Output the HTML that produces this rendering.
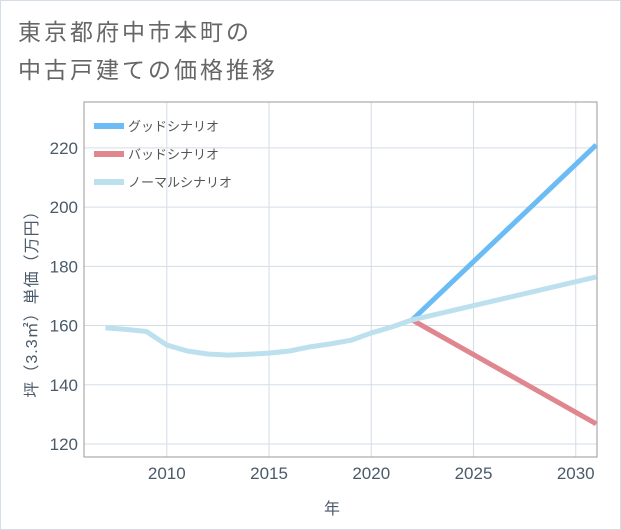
<!DOCTYPE html>
<html><head><meta charset="utf-8"><style>
body{margin:0;background:#fff;font-family:"Liberation Sans","Noto Sans CJK JP",sans-serif;}
#wrap{position:relative;width:619px;height:528px;border:1px solid #d5dde6;background:#fff;}
</style></head><body>
<div id="wrap">
<svg id="chart" width="621" height="530" style="position:absolute;left:-1px;top:-1px">
<text x="18" y="40" font-size="23" fill="#666" letter-spacing="3">東京都府中市本町の</text>
<text x="18" y="78" font-size="23" fill="#666" letter-spacing="3">中古戸建ての価格推移</text>
<g id="grid"></g>
<rect x="84" y="102" width="513" height="355" fill="none" stroke="#999" stroke-width="1"/>
<g id="series"></g>
<g id="axes"></g>
<text x="0" y="0" font-size="16" fill="#4a5a6a" letter-spacing="1" transform="translate(37,300) rotate(-90)" text-anchor="middle">坪（3.3㎡）単価（万円）</text>
<text x="332" y="514" font-size="16" fill="#4a5a6a" text-anchor="middle">年</text>
<g id="legend"></g>
</svg>
</div>
<script>
const years=[2007,2008,2009,2010,2011,2012,2013,2014,2015,2016,2017,2018,2019,2020,2021,2022];
const histValues=[159.2,158.7,158.0,153.4,151.4,150.4,150.0,150.3,150.7,151.4,152.8,153.8,155.0,157.5,159.5,161.9];
const projYears=[2022,2031];
const goodValues=[161.9,221];
const badValues=[161.9,126.8];
const normalValues=[161.9,176.4];
const xTicks=[2010,2015,2020,2025,2030];
const yTicks=[120,140,160,180,200,220];
const seriesNames=["グッドシナリオ","バッドシナリオ","ノーマルシナリオ"];
const X0=84,X1=597,Y0=457,Y1=102,xMin=2005.95,xMax=2031.04,yMin=115.6,yMax=235.5;
const xs=v=>X0+(v-xMin)/(xMax-xMin)*(X1-X0);
const ys=v=>Y0-(v-yMin)/(yMax-yMin)*(Y0-Y1);
const NS="http://www.w3.org/2000/svg";
function mk(t,a,p){const e=document.createElementNS(NS,t);for(const k in a)e.setAttribute(k,a[k]);p.appendChild(e);return e;}
const grid=document.getElementById('grid'),axes=document.getElementById('axes'),ser=document.getElementById('series'),leg=document.getElementById('legend');
yTicks.forEach(v=>{const l=mk('line',{x1:X0,x2:X1,y1:ys(v),y2:ys(v),stroke:'#d3dde8','stroke-width':1},grid);


const t=mk('text',{x:X0-6,y:ys(v)+6,'font-size':17,fill:'#4a5a6a','text-anchor':'end'},axes);t.textContent=v;

});
xTicks.forEach(v=>{const l=mk('line',{x1:xs(v),x2:xs(v),y1:Y1,y2:Y0,stroke:'#d3dde8','stroke-width':1},grid);


const t=mk('text',{x:xs(v),y:Y0+22,'font-size':17,fill:'#4a5a6a','text-anchor':'middle'},axes);t.textContent=v;

});
function line(xv,yv,color,name){const p=mk('polyline',{points:xv.map((x,i)=>xs(x)+','+ys(yv[i])).join(' '),fill:'none',stroke:color,'stroke-width':5,'stroke-linejoin':'round'},ser);

}
line(projYears,badValues,'#e0868f','bad-scenario-line');
line(projYears,goodValues,'#6bbcf5','good-scenario-line');
line(years,histValues,'#bde0ee','history-line');
line(projYears,normalValues,'#bde0ee','normal-scenario-line');
const cols=['#6bbcf5','#e0868f','#bde0ee'];
seriesNames.forEach((n,i)=>{const y=126+i*28;
const r=mk('rect',{x:94,y:y-3,width:30,height:6,fill:cols[i]},leg);


const t=mk('text',{x:128,y:y+5,'font-size':13,fill:'#555'},leg);t.textContent=n;

});
</script>
</body></html>
